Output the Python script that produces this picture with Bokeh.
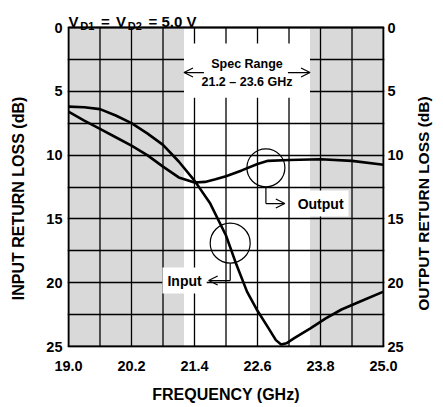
import math
from bokeh.plotting import figure
from bokeh.models import (Range1d, LinearAxis, FixedTicker, NumeralTickFormatter,
                          Label, Arrow, OpenHead)
from bokeh.embed import file_html
from bokeh.resources import INLINE

# ---------------- data ----------------
freq_input = [19.0, 19.3, 19.6, 19.9, 20.2, 20.5, 20.8, 21.1, 21.4, 21.7, 22.0,
              22.2, 22.4, 22.6, 22.8, 22.95, 23.05, 23.15, 23.3, 23.6, 23.9,
              24.2, 24.6, 25.0]
input_rl = [6.2, 6.25, 6.4, 6.9, 7.5, 8.3, 9.2, 10.5, 12.0, 13.8, 16.3,
            18.6, 20.7, 22.2, 23.5, 24.5, 24.85, 24.75, 24.35, 23.6, 22.8,
            22.1, 21.4, 20.7]

freq_output = [19.0, 19.3, 19.6, 19.9, 20.2, 20.5, 20.8, 21.1, 21.4, 21.6, 21.8,
               22.0, 22.3, 22.6, 22.8, 23.2, 23.8, 24.4, 25.0]
output_rl = [6.6, 7.3, 7.95, 8.6, 9.25, 10.0, 10.9, 11.75, 12.15, 12.1, 11.9,
             11.65, 11.2, 10.7, 10.45, 10.38, 10.33, 10.45, 10.75]

x_grid = [19.0, 19.6, 20.2, 20.8, 21.4, 22.0, 22.6, 23.2, 23.8, 24.4, 25.0]
x_ticks = [19.0, 20.2, 21.4, 22.6, 23.8, 25.0]
y_grid = [0, 2.5, 5, 7.5, 10, 12.5, 15, 17.5, 20, 22.5, 25]
y_ticks = [0, 5, 10, 15, 20, 25]

x_min, x_max = 19.0, 25.0
y_min, y_max = 0.0, 25.0

shade_left = [19.0, 23.6]
shade_right = [21.2, 25.0]
spec_lo, spec_hi = 21.2, 23.6

callout_x = [22.08, 22.76]
callout_y = [16.9, 11.0]

FONT = "Liberation Sans"
LEFT_TITLE = "INPUT RETURN LOSS (dB)"
RIGHT_TITLE = "OUTPUT RETURN LOSS (dB)"
LEFT_TITLE_AT = 13.4    # dB level of the centre of the left title
RIGHT_TITLE_AT = 22.2   # dB level where the right title starts (it reads upward)

# pixel scale: 319 px for 6 GHz and for 25 dB
PX_X = 319 / 6.0
PX_Y = 319 / 25.0
pad_x = 1.0 / PX_X
pad_y = 1.0 / PX_Y
top_extra = 27.0 / PX_Y   # frame extends up to the canvas top (room for the title)

def tx(px):
    return x_min + (px - 68) / PX_X

def ty(py):
    return (py - 27) / PX_Y

p = figure(width=443, height=407,
           x_range=Range1d(x_min - pad_x, x_max + pad_x),
           y_range=Range1d(y_max + pad_y, y_min - top_extra),
           output_backend="svg", toolbar_location=None, title_location=None,
           min_border_left=67, min_border_right=55, min_border_top=0,
           min_border_bottom=60)

p.background_fill_color = "white"
p.border_fill_color = "white"
p.outline_line_color = None

# horizontal grid (spans x only)
p.ygrid.ticker = FixedTicker(ticks=y_grid)
p.ygrid.grid_line_color = "black"
p.ygrid.grid_line_width = 1.3
p.xgrid.visible = False

def style_axis(ax, standoff, label_standoff=0, size="14.5px"):
    ax.axis_line_color = None
    ax.major_tick_line_color = None
    ax.minor_tick_line_color = None
    ax.major_tick_out = 0
    ax.major_tick_in = 0
    ax.minor_tick_out = 0
    ax.minor_tick_in = 0
    ax.major_label_text_font = FONT
    ax.major_label_text_font_style = "bold"
    ax.major_label_text_font_size = size
    ax.major_label_text_color = "black"
    ax.major_label_standoff = standoff
    ax.axis_label_text_font = FONT
    ax.axis_label_text_font_style = "bold"
    ax.axis_label_text_font_size = "16px"
    ax.axis_label_text_color = "black"
    ax.axis_label_standoff = label_standoff

p.xaxis.ticker = FixedTicker(ticks=x_ticks)
p.xaxis.formatter = NumeralTickFormatter(format="0.0")
p.xaxis.axis_label = "FREQUENCY (GHz)"
p.xaxis.bounds = (x_min, x_max)
style_axis(p.xaxis[0], 13, 12)

p.yaxis.ticker = FixedTicker(ticks=y_ticks)
p.yaxis.bounds = (y_min, y_max)
style_axis(p.yaxis[0], 5)

right = LinearAxis(ticker=FixedTicker(ticks=y_ticks), bounds=(y_min, y_max))
style_axis(right, 3)
p.add_layout(right, "right")

# axis titles: outer axes whose single tick label carries the title text
left_title = LinearAxis(ticker=FixedTicker(ticks=[LEFT_TITLE_AT]),
                        major_label_overrides={LEFT_TITLE_AT: LEFT_TITLE},
                        major_label_orientation="parallel")
style_axis(left_title, 16, size="16px")
p.add_layout(left_title, "left")

right_title = LinearAxis(ticker=FixedTicker(ticks=[RIGHT_TITLE_AT]),
                         major_label_overrides={RIGHT_TITLE_AT: RIGHT_TITLE},
                         major_label_orientation=math.pi / 2)
style_axis(right_title, 17, size="15.5px")
p.add_layout(right_title, "right")

# shading (below grid)
p.quad(left=shade_left, right=shade_right, bottom=[y_max, y_max], top=[y_min, y_min],
       fill_color="#d9d9d9", line_color=None, level="image")

# vertical grid lines, limited to the plotting box
p.segment(x0=x_grid, y0=[y_min] * len(x_grid), x1=x_grid, y1=[y_max] * len(x_grid),
          line_color="black", line_width=1.3, level="underlay")

# white box behind spec range text
p.quad(left=[spec_lo], right=[spec_hi], bottom=[5.5], top=[1.25],
       fill_color="white", line_color=None)

# plot box border
p.quad(left=[x_min], right=[x_max], bottom=[y_max], top=[y_min],
       fill_color=None, line_color="black", line_width=2)

# curves
p.line(freq_output, output_rl, line_color="black", line_width=2.6)
p.line(freq_input, input_rl, line_color="black", line_width=2.6)

# callout circles
p.scatter(callout_x, callout_y, size=[40, 38], marker="circle",
          fill_color=None, line_color="black", line_width=1.2)

# callout leaders
p.line([callout_x[0], callout_x[0]], [callout_y[0] + 1.57, 19.83], line_color="black", line_width=1.2)
p.line([callout_x[1], callout_x[1]], [callout_y[1] + 1.49, 13.8], line_color="black", line_width=1.2)
p.add_layout(Arrow(end=OpenHead(size=9, line_width=1.2), x_start=callout_x[0], y_start=19.83,
                   x_end=21.67, y_end=19.83, line_width=1.2))
p.add_layout(Arrow(end=OpenHead(size=9, line_width=1.2), x_start=callout_x[1], y_start=13.8,
                   x_end=23.12, y_end=13.8, line_width=1.2))

# spec range arrows
p.add_layout(Arrow(end=OpenHead(size=9, line_width=1.2), x_start=21.58, y_start=3.53,
                   x_end=spec_lo, y_end=3.53, line_width=1.2))
p.add_layout(Arrow(end=OpenHead(size=9, line_width=1.2), x_start=23.18, y_start=3.53,
                   x_end=spec_hi, y_end=3.53, line_width=1.2))

def lbl(x, y, text, size, align="left", baseline="middle", font=FONT, bg=None, pad=0):
    kw = dict(x=x, y=y, text=text, text_font=font, text_font_style="bold",
              text_font_size=size, text_align=align, text_baseline=baseline,
              text_color="black")
    if bg:
        kw.update(background_fill_color=bg, padding=pad)
    p.add_layout(Label(**kw))

lbl(22.4, 2.85, "Spec Range", "12.5px", align="center")
lbl(22.4, 4.3, "21.2 \u2013 23.6 GHz", "12.5px", align="center")
lbl(23.27, 13.8, "Output", "14px", bg="white", pad=5)
lbl(20.79, 19.83, "Input", "14px", bg="white", pad=5)

# title with subscripts, placed above the plotting box
lbl(tx(68), ty(21), "V", "15px", baseline="alphabetic")
lbl(tx(80), ty(25), "D1", "11px", baseline="alphabetic")
lbl(tx(101), ty(21), "=", "15px", baseline="alphabetic")
lbl(tx(116), ty(21), "V", "15px", baseline="alphabetic")
lbl(tx(128), ty(25), "D2", "11px", baseline="alphabetic")
lbl(tx(149), ty(21), "= 5.0 V", "15px", baseline="alphabetic")

open("out.html", "w").write(file_html(p, INLINE))
